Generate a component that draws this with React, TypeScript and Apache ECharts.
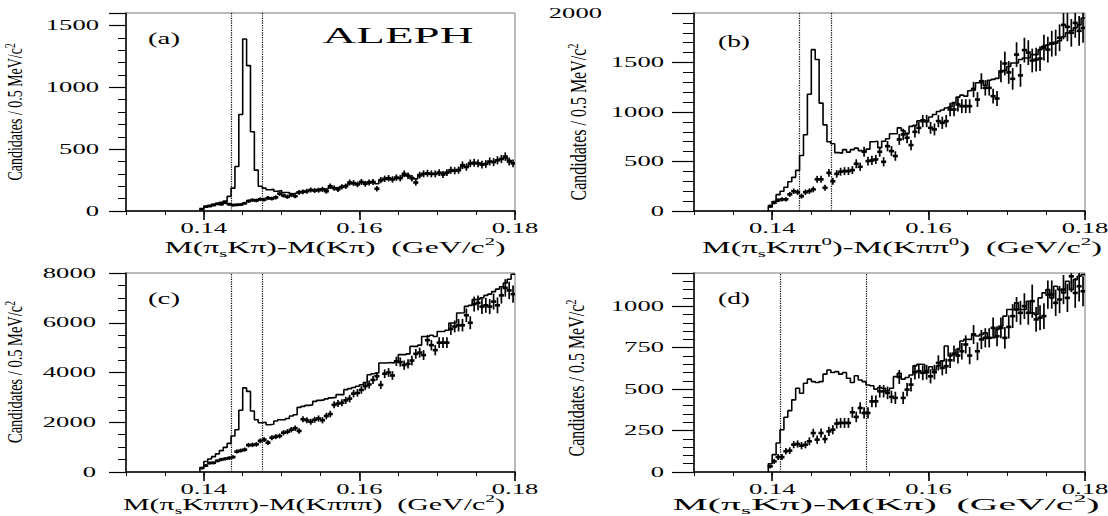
import React, { useEffect, useRef } from 'react';
import * as echarts from 'echarts';

// ---------- binning ----------
const BIN_START = 0.1395;
const BIN_WIDTH = 0.0005;
const X_MIN = 0.13;
const X_MAX = 0.18;
const X_TICK_LABELS = [0.14, 0.16, 0.18];

// ---------- (a) D0 -> K pi ----------
const A_HIST = [
  15, 35, 45, 55, 60, 70, 80, 118, 185, 360,
  780, 1390, 1175, 640, 330, 200, 185, 172, 175, 160,
  165, 150, 150, 140, 145, 155, 160, 165, 170, 168,
  175, 175, 180, 190, 185, 185, 195, 205, 220, 220,
  220, 230, 225, 235, 235, 220, 245, 255, 260, 260,
  265, 270, 290, 285, 270, 260, 285, 300, 300, 300,
  305, 305, 300, 310, 325, 325, 335, 360, 360, 380,
  385, 385, 380, 385, 395, 400, 410, 420, 430, 410,
  390,
];
const A_PTS = [
  16, 35, 40, 48, 58, 55, 68, 55, 48, 50,
  52, 62, 80, 88, 85, 95, 92, 105, 100, 110,
  140, 125, 115, 130, 120, 150, 155, 160, 170, 165,
  168, 175, 160, 200, 185, 175, 195, 200, 230, 225,
  215, 235, 220, 230, 235, 180, 250, 260, 265, 255,
  270, 265, 300, 285, 265, 230, 290, 300, 305, 300,
  300, 310, 295, 310, 330, 325, 330, 370, 355, 385,
  390, 385, 375, 380, 400, 395, 410, 420, 440, 400,
  385,
];
const A_ERR = [
  8, 10, 10, 11, 12, 12, 13, 12, 11, 11,
  12, 13, 14, 15, 15, 15, 15, 16, 16, 17,
  18, 17, 17, 18, 17, 19, 19, 20, 20, 20,
  20, 21, 20, 22, 21, 21, 22, 22, 24, 24,
  23, 24, 24, 24, 24, 22, 25, 26, 26, 26,
  26, 26, 28, 27, 26, 25, 27, 28, 28, 28,
  28, 28, 28, 28, 29, 29, 29, 31, 30, 31,
  32, 31, 31, 31, 32, 32, 33, 33, 34, 32,
  32,
];
const A_Y_LABELS = [0, 500, 1000, 1500];

// ---------- (b) D0 -> K pi pi0 ----------
const B_HIST = [
  40, 95, 165, 200, 240, 295, 340, 410, 560, 770,
  1180, 1630, 1530, 1090, 870, 700, 680, 590, 585, 620,
  595, 620, 635, 610, 600, 625, 700, 705, 640, 705,
  730, 780, 780, 840, 810, 780, 855, 865, 910, 920,
  905, 950, 975, 1005, 1020, 1040, 1050, 1095, 1150, 1170,
  1160, 1215, 1240, 1295, 1295, 1270, 1320, 1330, 1340, 1410,
  1420, 1460, 1495, 1495, 1530, 1545, 1545, 1580, 1580, 1630,
  1665, 1680, 1700, 1700, 1720, 1760, 1800, 1820, 1850, 1880,
  1950,
];
const B_PTS = [
  50, 84, 108, 118, 118, 168, 200, 190, 150, 190,
  200, 218, 320, 320, 235, 385, 300, 375, 397, 403,
  403, 413, 477, 447, 598, 504, 511, 521, 598, 497,
  655, 605, 555, 723, 773, 740, 666, 800, 840, 908,
  908, 840, 824, 908, 891, 908, 1025, 1025, 1076, 1059,
  1059, 1059, 1227, 1126, 1311, 1244, 1244, 1160, 1136, 1410,
  1490, 1400, 1335, 1580, 1370, 1625, 1600, 1520, 1530, 1540,
  1650, 1630, 1690, 1700, 1750, 1880, 1860, 1800, 1900, 1820,
  1850,
];
const B_ERR = [
  15, 18, 20, 22, 22, 25, 28, 28, 25, 28,
  28, 30, 35, 35, 30, 38, 35, 38, 40, 40,
  40, 40, 45, 42, 50, 45, 46, 46, 50, 46,
  52, 50, 48, 55, 58, 56, 52, 58, 60, 62,
  62, 60, 60, 62, 62, 62, 68, 68, 70, 70,
  70, 70, 78, 75, 80, 78, 78, 75, 75, 110,
  120, 115, 110, 125, 115, 125, 125, 120, 120, 125,
  130, 130, 130, 132, 135, 145, 145, 140, 150, 150,
  150,
];
const B_Y_LABELS = [0, 500, 1000, 1500, 2000];

// ---------- (c) D0 -> K pi pi pi ----------
const C_HIST = [
  150, 420, 520, 620, 730, 860, 990, 1150, 1450, 1700,
  2480, 3380, 3240, 2450, 2100, 1980, 2000, 1900, 1920, 2050,
  2100, 2100, 2150, 2250, 2300, 2600, 2640, 2680, 2700, 2840,
  2880, 2900, 2940, 2980, 3000, 3110, 3110, 3310, 3350, 3400,
  3450, 3510, 3600, 3910, 3950, 3980, 4380, 4380, 4400, 4380,
  4420, 4720, 4720, 4750, 5050, 5050, 5100, 5450, 5450, 5500,
  5450, 5650, 5650, 5700, 5990, 6000, 6390, 6400, 6660, 6700,
  6930, 6950, 7000, 7100, 7150, 7250, 7350, 7450, 7600, 7750,
  7950,
];
const C_PTS = [
  160, 260, 360, 370, 450, 500, 530, 560, 600, 820,
  860, 900, 1080, 1090, 1110, 1250, 1300, 1180, 1380, 1420,
  1450, 1580, 1620, 1700, 1760, 1650, 2120, 2080, 2020, 2100,
  2150, 2080, 2250, 2330, 2700, 2750, 2780, 2880, 2950, 3150,
  3180, 3300, 3450, 3520, 3700, 3850, 3500, 3950, 4000, 3880,
  4450, 4420, 4300, 4350, 4480, 4750, 4800, 4700, 5300, 5100,
  4900, 5200, 5200, 5200, 5750, 5850, 5900, 5900, 6300, 6000,
  6750, 6800, 6650, 6700, 6650, 6850, 6700, 7100, 7400, 7300,
  7150,
];
const C_ERR = [
  50, 60, 60, 65, 65, 70, 70, 70, 75, 80,
  80, 85, 90, 90, 90, 95, 95, 95, 100, 100,
  100, 105, 105, 110, 110, 110, 120, 120, 120, 120,
  125, 125, 130, 130, 140, 140, 140, 145, 150, 150,
  150, 155, 160, 160, 165, 170, 165, 175, 175, 175,
  185, 185, 185, 185, 190, 195, 200, 200, 210, 210,
  210, 220, 220, 220, 240, 240, 250, 250, 270, 260,
  300, 300, 300, 300, 300, 320, 320, 330, 350, 350,
  350,
];
const C_Y_LABELS = [0, 2000, 4000, 6000, 8000];

// ---------- (d) D0 -> K pi (satellite) ----------
const D_HIST = [
  50, 105, 175, 255, 330, 370, 435, 505, 475, 535,
  560, 545, 540, 545, 590, 615, 600, 605, 590, 600,
  565, 540, 580, 555, 545, 525, 520, 500, 510, 505,
  490, 505, 575, 595, 560, 570, 585, 640, 650, 648,
  610, 635, 615, 640, 670, 760, 700, 710, 740, 790,
  800, 800, 830, 820, 830, 840, 810, 810, 860, 880,
  940, 980, 980, 1020, 980, 980, 1030, 960, 950, 1050,
  1080, 1100, 1050, 1120, 1100, 1080, 1150, 1100, 1160, 1180,
  1190,
];
const D_PTS = [
  34, 64, 90, 90, 125, 129, 165, 169, 159, 165,
  185, 235, 195, 235, 199, 245, 255, 292, 296, 296,
  296, 360, 332, 386, 356, 356, 426, 426, 487, 487,
  477, 453, 447, 573, 447, 497, 527, 602, 608, 598,
  602, 577, 602, 658, 628, 638, 674, 714, 702, 728,
  769, 702, 829, 728, 799, 809, 809, 869, 819, 869,
  809, 875, 940, 980, 960, 1000, 960, 1030, 920, 930,
  940, 1070, 1070, 1020, 1040, 1100, 1050, 1180, 1080, 1120,
  1090,
];
const D_ERR = [
  12, 15, 18, 18, 20, 20, 22, 22, 22, 22,
  24, 26, 25, 27, 25, 28, 28, 30, 30, 30,
  30, 33, 32, 35, 34, 34, 36, 36, 38, 38,
  38, 37, 37, 42, 37, 40, 41, 44, 44, 44,
  44, 43, 44, 46, 45, 46, 47, 49, 48, 50,
  55, 52, 57, 54, 58, 58, 58, 62, 60, 62,
  65, 70, 72, 75, 72, 78, 72, 100, 75, 75,
  78, 85, 85, 80, 82, 88, 85, 95, 90, 92,
  90,
];
const D_Y_LABELS = [0, 250, 500, 750, 1000];

// signal windows (dotted lines)
const CUTS_ABC = [0.1435, 0.1475];
const CUTS_D = [0.141, 0.152];

// titles
const TITLE_KPI = '{n|M(π}{sub|s}{n|Kπ)-M(Kπ)  (GeV/c}{sup|2}{n|)}';
const TITLE_KPIPI0 = '{n|M(π}{sub|s}{n|Kππ}{sup|0}{n|)-M(Kππ}{sup|0}{n|)  (GeV/c}{sup|2}{n|)}';
const TITLE_K3PI = '{n|M(π}{sub|s}{n|Kπππ)-M(Kπππ)  (GeV/c}{sup|2}{n|)}';
const Y_TITLE = '{n|Candidates / 0.5 MeV/c}{sup|2}';

const SERIF = '"Liberation Serif", "Times New Roman", Times, serif';
const LABEL_SX = 1.9;

const PANELS = [
  {
    hist: A_HIST, pts: A_PTS, err: A_ERR, yMax: 1600, yMajor: 500, yMinor: 100, yLabels: A_Y_LABELS, cuts: CUTS_ABC,
    grid: { left: 126, top: 13, width: 389, height: 198 }, tickMajor: 17, tickMinor: 8, labelGap: 27, yShift: {} as Record<number, number>,
    tag: '(a)', tagPos: [164, 39], xTitle: TITLE_KPI, xTitlePos: [335, 247], xTitleW: 341,
    yTitlePos: [15, 112], yTitleLen: 137, yTitleFont: 21,
  },
  {
    hist: B_HIST, pts: B_PTS, err: B_ERR, yMax: 2000, yMajor: 500, yMinor: 100, yLabels: B_Y_LABELS, cuts: CUTS_ABC,
    grid: { left: 694, top: 13, width: 391, height: 198 }, tickMajor: 22, tickMinor: 11, labelGap: 30, yShift: { 2000: -62 } as Record<number, number>,
    tag: '(b)', tagPos: [734, 42], xTitle: TITLE_KPIPI0, xTitlePos: [902, 247], xTitleW: 400,
    yTitlePos: [578, 122], yTitleLen: 157, yTitleFont: 23,
  },
  {
    hist: C_HIST, pts: C_PTS, err: C_ERR, yMax: 8000, yMajor: 2000, yMinor: 500, yLabels: C_Y_LABELS, cuts: CUTS_ABC,
    grid: { left: 126, top: 273, width: 389, height: 199 }, tickMajor: 17, tickMinor: 8, labelGap: 30, yShift: {} as Record<number, number>,
    tag: '(c)', tagPos: [164, 299], xTitle: TITLE_K3PI, xTitlePos: [314, 504], xTitleW: 382,
    yTitlePos: [15, 372], yTitleLen: 142, yTitleFont: 21,
  },
  {
    hist: D_HIST, pts: D_PTS, err: D_ERR, yMax: 1200, yMajor: 250, yMinor: 50, yLabels: D_Y_LABELS, cuts: CUTS_D,
    grid: { left: 694, top: 273, width: 391, height: 199 }, tickMajor: 22, tickMinor: 11, labelGap: 30, yShift: {} as Record<number, number>,
    tag: '(d)', tagPos: [734, 299], xTitle: TITLE_KPI, xTitlePos: [886, 504], xTitleW: 427,
    yTitlePos: [576, 378], yTitleLen: 157, yTitleFont: 23,
  },
];

const r5 = (v: number) => Math.round(v * 1e6) / 1e6;

function histData(vals: number[]) {
  const d: number[][] = [[BIN_START, 0]];
  vals.forEach((v, i) => d.push([r5(BIN_START + i * BIN_WIDTH), v]));
  d.push([r5(BIN_START + vals.length * BIN_WIDTH), vals[vals.length - 1]]);
  return d;
}

function pointData(vals: number[], errs: number[]) {
  return vals.map((v, i) => [r5(BIN_START + (i + 0.5) * BIN_WIDTH), v, errs[i]]);
}

function richStyles(size: number, pad = 6) {
  return {
    n: { fontFamily: SERIF, fontSize: size, lineHeight: size + pad, verticalAlign: 'middle', fill: '#000' },
    sub: { fontFamily: SERIF, fontSize: Math.round(size * 0.65), lineHeight: Math.round(size * 0.65), verticalAlign: 'bottom', fill: '#000' },
    sup: { fontFamily: SERIF, fontSize: Math.round(size * 0.65), lineHeight: Math.round(size * 0.65), verticalAlign: 'top', fill: '#000' },
  };
}

function measureWidth(style: any): number {
  const T: any = (echarts.graphic as any).Text;
  const t = new T({ style });
  const w = t.getBoundingRect().width;
  return w > 0 ? w : 1;
}

function fitText(style: any, cx: number, cy: number, target: number, rotation = 0) {
  const full = { align: 'center', verticalAlign: 'middle', fill: '#000', ...style };
  const w = measureWidth(full);
  return { type: 'text', x: cx, y: cy, rotation, scaleX: target / w, silent: true, z: 100, style: full };
}

function buildOption() {
  const grid: any[] = [];
  const xAxis: any[] = [];
  const yAxis: any[] = [];
  const series: any[] = [];
  PANELS.forEach((p, g) => {
    grid.push({ ...p.grid, show: true, borderColor: '#777', borderWidth: 1, backgroundColor: 'transparent', containLabel: false, outerBoundsMode: 'none' });
    xAxis.push({
      type: 'value', gridIndex: g, min: X_MIN, max: X_MAX, interval: 0.01, position: 'bottom', offset: 0,
      axisLine: { show: true, onZero: false, lineStyle: { color: '#000', width: 1.5 } },
      axisTick: { show: true, inside: false, length: 9, customValues: X_TICK_LABELS, lineStyle: { color: '#000', width: 1.6 } },
      axisLabel: { show: false }, splitLine: { show: false },
    });
    xAxis.push({
      type: 'value', gridIndex: g, min: X_MIN, max: X_MAX, interval: 0.005, position: 'bottom', offset: 0,
      axisLine: { show: false, onZero: false },
      axisTick: { show: true, inside: false, length: 4, lineStyle: { color: '#000', width: 1 } },
      axisLabel: { show: false }, splitLine: { show: false },
    });
    yAxis.push({
      type: 'value', gridIndex: g, min: 0, max: p.yMax, interval: p.yMajor, position: 'left', offset: 0,
      axisLine: { show: true, onZero: false, lineStyle: { color: '#000', width: 1.5 } },
      axisTick: { show: true, inside: false, length: p.tickMajor, lineStyle: { color: '#000', width: 1.2 } },
      axisLabel: { show: false }, splitLine: { show: false },
    });
    yAxis.push({
      type: 'value', gridIndex: g, min: 0, max: p.yMax, interval: p.yMinor, position: 'left', offset: 0,
      axisLine: { show: false, onZero: false },
      axisTick: { show: true, inside: false, length: p.tickMinor, lineStyle: { color: '#000', width: 1 } },
      axisLabel: { show: false }, splitLine: { show: false },
    });
    series.push({
      type: 'line', xAxisIndex: 2 * g, yAxisIndex: 2 * g, data: histData(p.hist), step: 'end',
      symbol: 'none', showSymbol: false, clip: true, silent: true, z: 3,
      lineStyle: { color: '#000', width: 1.6 },
      markLine: {
        silent: true, symbol: ['none', 'none'], label: { show: false }, precision: 6,
        lineStyle: { type: 'dotted', color: '#000', width: 1.2 },
        data: p.cuts.map((c) => ({ xAxis: c })),
      },
    });
    series.push({
      type: 'custom', xAxisIndex: 2 * g, yAxisIndex: 2 * g, data: pointData(p.pts, p.err), clip: true, silent: true, z: 4,
      encode: { x: 0, y: 1 },
      renderItem: (params: any, api: any) => {
        const x = api.value(0), y = api.value(1), e = api.value(2);
        const l = api.coord([x - BIN_WIDTH / 2, y]);
        const r = api.coord([x + BIN_WIDTH / 2, y]);
        const t = api.coord([x, y + e]);
        const b = api.coord([x, y - e]);
        const cs = params.coordSys;
        const top = Math.max(t[1], cs.y);
        const bot = Math.min(b[1], cs.y + cs.height);
        return {
          type: 'group',
          children: [
            { type: 'line', shape: { x1: l[0] - 0.6, y1: l[1], x2: r[0] + 0.6, y2: r[1] }, style: { stroke: '#000', lineWidth: 2.6 } },
            { type: 'line', shape: { x1: t[0], y1: top, x2: b[0], y2: bot }, style: { stroke: '#000', lineWidth: 1.7 } },
          ],
        };
      },
    });
  });
  return { animation: false, backgroundColor: '#fff', grid, xAxis, yAxis, series };
}

function buildGraphics(chart: any) {
  const els: any[] = [];
  PANELS.forEach((p, g) => {
    const xi = 2 * g;
    const yi = 2 * g;
    const axisPx = chart.convertToPixel({ xAxisIndex: xi }, X_MIN) as number;
    const zeroPy = chart.convertToPixel({ yAxisIndex: yi }, 0) as number;
    p.yLabels.forEach((v) => {
      const py = chart.convertToPixel({ yAxisIndex: yi }, v) as number;
      els.push({
        type: 'text', x: axisPx - p.labelGap + (p.yShift[v] || 0), y: py, scaleX: LABEL_SX, silent: true, z: 100,
        style: { text: String(v), fontFamily: SERIF, fontSize: 14, fill: '#000', align: 'right', verticalAlign: 'middle' },
      });
    });
    X_TICK_LABELS.forEach((v) => {
      const px = chart.convertToPixel({ xAxisIndex: xi }, v) as number;
      els.push({
        type: 'text', x: px, y: zeroPy + 17, scaleX: LABEL_SX, silent: true, z: 100,
        style: { text: v.toFixed(2), fontFamily: SERIF, fontSize: 14, fill: '#000', align: 'center', verticalAlign: 'middle' },
      });
    });
    // x-axis title
    els.push(fitText({ text: p.xTitle, rich: richStyles(17) }, p.xTitlePos[0], p.xTitlePos[1], p.xTitleW));
    // y-axis title (rotated)
    els.push(fitText({ text: Y_TITLE, rich: richStyles(p.yTitleFont, 2) }, p.yTitlePos[0], p.yTitlePos[1], p.yTitleLen, Math.PI / 2));
    // panel tag
    els.push(fitText({ text: p.tag, fontFamily: SERIF, fontSize: 16 }, p.tagPos[0], p.tagPos[1], 32));
  });
  els.push(fitText({ text: 'ALEPH', fontFamily: SERIF, fontSize: 23 }, 398, 35, 151));
  return els;
}

export default function App() {
  const ref = useRef<HTMLDivElement>(null);
  useEffect(() => {
    const el = ref.current;
    if (!el) return;
    const chart = echarts.init(el, null, { renderer: 'svg', width: 1108, height: 516 });
    chart.setOption(buildOption() as any);
    chart.setOption({ graphic: { elements: buildGraphics(chart) } } as any);
    return () => {
      chart.dispose();
    };
  }, []);
  return (
    <div
      ref={ref}
      style={{ position: 'absolute', left: 0, top: 0, width: 1108, height: 516, background: '#fff' }}
    />
  );
}
